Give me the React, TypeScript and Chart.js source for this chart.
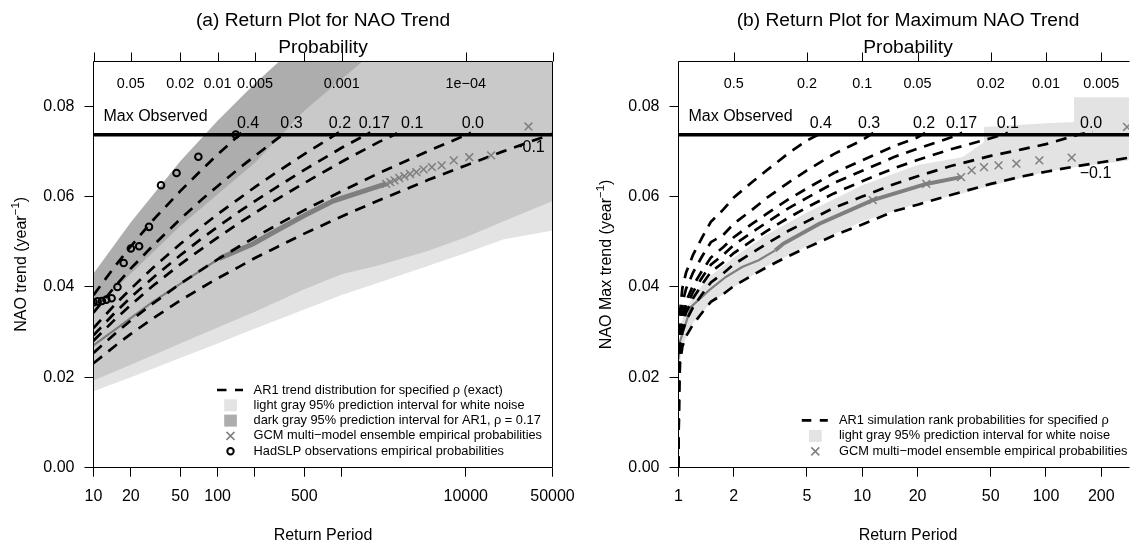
import React, { useEffect, useRef } from 'react';
import { Chart, registerables } from 'chart.js';
Chart.register(...registerables);

const FONT = '"Liberation Sans", Arial, Helvetica, sans-serif';
const MAX_OBSERVED = 0.0737;
const Y_TICKS = [0, 0.02, 0.04, 0.06, 0.08];

// ---------------- Panel (a) ----------------
const A_X_TICKS = [10, 20, 50, 100, 200, 500, 1000, 10000, 50000];
const A_X_LABELS = ['10', '20', '50', '100', '', '500', '', '10000', '50000'];
const A_PROB_AT = [20, 50, 100, 200, 1000, 10000];
const A_PROB_LABELS = ['0.05', '0.02', '0.01', '0.005', '0.001', '1e\u221204'];

const A_BAND_T = [10, 20, 50, 100, 200, 500, 1000, 2000, 5000, 10000, 20000, 50000];
const A_AR1_UPPER = [0.043, 0.0543, 0.0678, 0.0768, 0.085, 0.095, 0.102, 0.108, 0.116, 0.122, 0.128, 0.135];
const A_AR1_LOWER = [0.0193, 0.0228, 0.0275, 0.031, 0.0345, 0.0395, 0.0428, 0.0448, 0.048, 0.051, 0.0545, 0.059];
const A_WN_UPPER = [0.0345, 0.043, 0.0535, 0.0605, 0.0675, 0.079, 0.086, 0.093, 0.1, 0.105, 0.11, 0.116];
const A_WN_LOWER = [0.0169, 0.02, 0.0243, 0.0275, 0.0308, 0.035, 0.0382, 0.041, 0.0447, 0.0475, 0.0505, 0.0525];

const A_RHO = ['0.4', '0.3', '0.2', '0.17', '0.1', '0.0', '\u22120.1'];
const A_CURVE_T = [
  [10, 15, 20, 30, 50, 75, 100, 150, 160],
  [10, 15, 20, 30, 50, 75, 100, 150, 200, 300, 350],
  [10, 15, 20, 30, 50, 75, 100, 150, 200, 300, 500, 950],
  [10, 15, 20, 30, 50, 75, 100, 150, 200, 300, 500, 1000, 1700],
  [10, 15, 20, 30, 50, 75, 100, 150, 200, 300, 500, 1000, 2000, 2800],
  [10, 15, 20, 30, 50, 75, 100, 150, 200, 300, 500, 1000, 2000, 5000, 10000, 11000],
  [10, 15, 20, 30, 50, 75, 100, 150, 200, 300, 500, 1000, 2000, 5000, 10000, 20000, 50000],
];
const A_CURVE_V = [
  [0.0382, 0.0447, 0.049, 0.0547, 0.0612, 0.066, 0.0693, 0.0737, 0.0745],
  [0.0343, 0.0402, 0.0441, 0.0491, 0.055, 0.0594, 0.0623, 0.0663, 0.069, 0.0727, 0.0741],
  [0.0309, 0.0362, 0.0396, 0.0442, 0.0495, 0.0534, 0.0561, 0.0596, 0.0621, 0.0654, 0.0694, 0.0742],
  [0.0293, 0.0344, 0.0377, 0.042, 0.047, 0.0508, 0.0533, 0.0567, 0.059, 0.0621, 0.0659, 0.0708, 0.0742],
  [0.0281, 0.0329, 0.036, 0.0402, 0.045, 0.0485, 0.0509, 0.0542, 0.0564, 0.0594, 0.063, 0.0677, 0.0721, 0.074],
  [0.0254, 0.0297, 0.0326, 0.0363, 0.0407, 0.0439, 0.0461, 0.049, 0.051, 0.0537, 0.057, 0.0612, 0.0652, 0.0701, 0.0736, 0.0741],
  [0.0231, 0.027, 0.0296, 0.033, 0.037, 0.0399, 0.0419, 0.0445, 0.0464, 0.0488, 0.0518, 0.0556, 0.0592, 0.0637, 0.0669, 0.07, 0.0739],
];
const A_LABEL_T = [176, 394, 968, 1830, 3700, 11400, 32300];
const A_LABEL_V = [0.0762, 0.0762, 0.0762, 0.0762, 0.0762, 0.0762, 0.0708];

const A_GCM_THIN_T = [10, 16.1, 30, 55.6, 103];
const A_GCM_THIN_V = [0.0271, 0.0312, 0.0367, 0.0415, 0.0463];
const A_GCM_THICK_T = [103, 192, 300, 500, 850, 1586, 2280];
const A_GCM_THICK_V = [0.0463, 0.0495, 0.0525, 0.0558, 0.059, 0.0614, 0.0628];
const A_GCM_PTS_T = [32000, 16000, 10667, 8000, 6400, 5333, 4571, 4000, 3556, 3200, 2909, 2667, 2462, 2286];
const A_GCM_PTS_V = [0.0755, 0.0691, 0.0687, 0.068, 0.0669, 0.0665, 0.066, 0.0654, 0.065, 0.0645, 0.0641, 0.0636, 0.0632, 0.0628];

const A_OBS_T = [140, 70, 46.7, 35, 28, 23.3, 20, 17.5, 15.6, 14, 12.7, 11.7, 10.8, 10];
const A_OBS_V = [0.0737, 0.0688, 0.0652, 0.0625, 0.0533, 0.049, 0.0485, 0.0453, 0.04, 0.0375, 0.0372, 0.0369, 0.0368, 0.0366];

// ---------------- Panel (b) ----------------
const B_X_TICKS = [1, 2, 5, 10, 20, 50, 100, 200];
const B_X_LABELS = ['1', '2', '5', '10', '20', '50', '100', '200'];
const B_TOP_TICKS = [2, 5, 10, 20, 50, 100, 200];
const B_PROB_AT = [2, 5, 10, 20, 50, 100, 200];
const B_PROB_LABELS = ['0.5', '0.2', '0.1', '0.05', '0.02', '0.01', '0.005'];

const B_BAND_T = [1, 1.05, 1.2, 1.5, 2, 3, 5, 10, 20, 35, 46, 46, 100, 142, 142, 283];
const B_BAND_UPPER = [0.027, 0.033, 0.038, 0.0425, 0.0465, 0.0515, 0.0565, 0.0625, 0.067, 0.0687, 0.072, 0.0754, 0.0762, 0.0765, 0.082, 0.082];
const B_BAND_LOWER = [0.021, 0.027, 0.032, 0.0365, 0.04, 0.0445, 0.049, 0.0545, 0.0585, 0.0607, 0.062, 0.062, 0.0655, 0.0665, 0.0665, 0.068];

const B_RHO = ['0.4', '0.3', '0.2', '0.17', '0.1', '0.0', '\u22120.1'];
const B_CURVE_T = [
  [1, 1.005, 1.02, 1.05, 1.1, 1.2, 1.35, 1.5, 1.75, 2, 2.5, 3, 4, 5, 6],
  [1, 1.005, 1.02, 1.05, 1.1, 1.2, 1.35, 1.5, 1.75, 2, 2.5, 3, 4, 5, 7, 10, 11.5],
  [1, 1.005, 1.02, 1.05, 1.1, 1.2, 1.35, 1.5, 1.75, 2, 2.5, 3, 4, 5, 7, 10, 15, 20, 22],
  [1, 1.005, 1.02, 1.05, 1.1, 1.2, 1.35, 1.5, 1.75, 2, 2.5, 3, 4, 5, 7, 10, 15, 20, 30, 35],
  [1, 1.005, 1.02, 1.05, 1.1, 1.2, 1.35, 1.5, 1.75, 2, 2.5, 3, 4, 5, 7, 10, 15, 20, 30, 50, 62],
  [1, 1.005, 1.02, 1.05, 1.1, 1.2, 1.35, 1.5, 1.75, 2, 2.5, 3, 4, 5, 7, 10, 15, 20, 30, 50, 75, 100, 150, 180],
  [1, 1.005, 1.02, 1.05, 1.1, 1.2, 1.35, 1.5, 1.75, 2, 2.5, 3, 4, 5, 7, 10, 15, 20, 30, 50, 75, 100, 150, 200, 283],
];
const B_CURVE_V = [
  [0, 0.0239, 0.0345, 0.0398, 0.0432, 0.0471, 0.0511, 0.0544, 0.0571, 0.0598, 0.0631, 0.0657, 0.0697, 0.0724, 0.0741],
  [0, 0.0219, 0.0317, 0.0365, 0.0396, 0.0432, 0.0469, 0.0499, 0.0515, 0.054, 0.057, 0.0596, 0.0632, 0.0658, 0.0694, 0.0725, 0.0741],
  [0, 0.0204, 0.0295, 0.034, 0.0369, 0.0403, 0.0437, 0.0465, 0.0488, 0.051, 0.0539, 0.0561, 0.0595, 0.0618, 0.0652, 0.068, 0.0712, 0.0731, 0.0741],
  [0, 0.0197, 0.0285, 0.0329, 0.0356, 0.0389, 0.0422, 0.0449, 0.0471, 0.0493, 0.052, 0.0542, 0.0575, 0.0597, 0.063, 0.0657, 0.0688, 0.0706, 0.073, 0.0741],
  [0, 0.019, 0.0275, 0.0317, 0.0343, 0.0375, 0.0407, 0.0433, 0.0454, 0.0475, 0.0502, 0.0523, 0.0554, 0.0576, 0.0607, 0.0634, 0.0663, 0.0681, 0.0704, 0.0729, 0.0741],
  [0, 0.018, 0.026, 0.03, 0.0325, 0.0355, 0.0385, 0.041, 0.043, 0.045, 0.0475, 0.0495, 0.0525, 0.0545, 0.0575, 0.06, 0.0628, 0.0645, 0.0667, 0.069, 0.0705, 0.0716, 0.0737, 0.0743],
  [0, 0.0161, 0.0232, 0.0268, 0.0291, 0.0317, 0.0344, 0.0367, 0.0384, 0.0402, 0.0425, 0.0443, 0.0469, 0.0487, 0.0514, 0.0538, 0.0568, 0.0582, 0.0603, 0.0628, 0.0645, 0.0655, 0.0668, 0.0676, 0.0686],
];
const B_LABEL_T = [5.95, 10.9, 21.7, 34.7, 62, 176, 186];
const B_LABEL_V = [0.0762, 0.0762, 0.0762, 0.0762, 0.0762, 0.0762, 0.0651];

const B_GCM_THIN_T = [1, 1.02, 1.17, 1.47, 1.81, 2.22, 2.73, 3.36];
const B_GCM_THIN_V = [0.024, 0.028, 0.0356, 0.0393, 0.0422, 0.0444, 0.0459, 0.0481];
const B_GCM_THICK_T = [3.36, 3.73, 5.84, 11.4, 22.3, 34.5];
const B_GCM_THICK_V = [0.0481, 0.0496, 0.054, 0.0592, 0.0628, 0.0643];
const B_GCM_PTS_T = [276, 138, 92, 69, 55.2, 46, 39.4, 34.5, 22.3, 11.4];
const B_GCM_PTS_V = [0.0754, 0.0686, 0.068, 0.0673, 0.0669, 0.0665, 0.0658, 0.0643, 0.0628, 0.0592];

// ---------------- styling ----------------
const DARK = '#adadad';
const LIGHT = '#e3e3e3';
const LIGHT_OVER = 'rgba(214,214,214,0.683)';
const GCM = '#7f7f7f';
const DASH = [11, 8];
const PLOT_TOP = 61;
const PLOT_BOTTOM = 467.7;

const pts = (ts: number[], vs: number[]) => ts.map((t, i) => ({ x: t, y: vs[i] }));

const hidden = { borderColor: 'rgba(0,0,0,0)', borderWidth: 0, pointRadius: 0 };

function makeScales(xMin: number, xMax: number, xTicks: number[], xLabels: string[], yWidth: number) {
  const grid = { drawOnChartArea: false, drawTicks: true, tickLength: 9, color: '#000', lineWidth: 1 };
  return {
    x: {
      type: 'logarithmic', position: 'bottom', min: xMin, max: xMax,
      afterBuildTicks: (s: any) => { s.ticks = xTicks.map((v) => ({ value: v })); },
      afterFit: (s: any) => { s.height = 544 - PLOT_BOTTOM; s.paddingLeft = 0; s.paddingRight = 0; },
      ticks: {
        autoSkip: false, maxRotation: 0, minRotation: 0, padding: 10, color: '#000',
        font: { family: FONT, size: 16 }, callback: (_v: any, i: number) => xLabels[i],
      },
      grid, border: { display: false },
    },
    y: {
      type: 'linear', min: 0, max: 0.09,
      afterBuildTicks: (s: any) => { s.ticks = Y_TICKS.map((v) => ({ value: v })); },
      afterFit: (s: any) => { s.width = yWidth; s.paddingTop = 0; s.paddingBottom = 0; },
      ticks: { padding: 10, color: '#000', font: { family: FONT, size: 16 }, callback: (v: any) => Number(v).toFixed(2) },
      grid, border: { display: false },
    },
  };
}

type Extra = {
  boxRight: boolean;
  topTicks: number[];
  probAt: number[];
  probLabels: string[];
  rho: string[];
  labelT: number[];
  labelV: number[];
  legend: { sym: string; text: string }[];
  legSymX: number;
  legTextX: number;
  legY0: number;
  legDy: number;
  title: string;
  titleX: number;
  yTitle: string;
  yTitleX: number;
};

function extrasPlugin(cfg: Extra) {
  return {
    id: 'extras',
    afterDraw(chart: any) {
      const { ctx, chartArea: a, scales } = chart;
      const xs = scales.x;
      const ys = scales.y;
      const L = Math.floor(a.left) + 0.5;
      const R = Math.floor(a.right) + 0.5;
      const T = Math.floor(a.top) + 0.5;
      const B = Math.floor(a.bottom) + 0.5;
      ctx.save();
      ctx.setLineDash([]);
      ctx.strokeStyle = '#000';
      ctx.lineWidth = 1;
      ctx.beginPath();
      ctx.moveTo(L, B); ctx.lineTo(L, T); ctx.lineTo(R, T);
      if (cfg.boxRight) ctx.lineTo(R, B);
      ctx.moveTo(L, B); ctx.lineTo(R, B);
      ctx.stroke();
      // top axis ticks
      ctx.beginPath();
      cfg.topTicks.forEach((t) => {
        const px = Math.round(xs.getPixelForValue(t)) + 0.5;
        ctx.moveTo(px, T); ctx.lineTo(px, T - 9);
      });
      ctx.stroke();
      ctx.fillStyle = '#000';
      ctx.textAlign = 'center';
      ctx.textBaseline = 'middle';
      // probability labels
      ctx.font = `14.4px ${FONT}`;
      cfg.probAt.forEach((t, i) => ctx.fillText(cfg.probLabels[i], xs.getPixelForValue(t), 84));
      // rho labels
      ctx.font = `16px ${FONT}`;
      cfg.rho.forEach((r, i) => ctx.fillText(r, xs.getPixelForValue(cfg.labelT[i]), ys.getPixelForValue(cfg.labelV[i])));
      // Max Observed
      ctx.textAlign = 'left';
      ctx.fillText('Max Observed', a.left + 10, 116.7);
      // titles
      ctx.textAlign = 'center';
      ctx.font = `19.2px ${FONT}`;
      ctx.fillText(cfg.title, cfg.titleX, 20.7);
      ctx.fillText('Probability', cfg.titleX, 47.3);
      ctx.font = `16px ${FONT}`;
      ctx.fillText('Return Period', cfg.titleX, 536);
      // y title with superscript
      ctx.save();
      ctx.translate(cfg.yTitleX, (a.top + a.bottom) / 2);
      ctx.rotate(-Math.PI / 2);
      ctx.textAlign = 'left';
      ctx.font = `16px ${FONT}`;
      const w1 = ctx.measureText(cfg.yTitle).width;
      const w3 = ctx.measureText(')').width;
      ctx.font = `11.5px ${FONT}`;
      const w2 = ctx.measureText('\u22121').width;
      const x0 = -(w1 + w2 + w3) / 2;
      ctx.font = `16px ${FONT}`;
      ctx.fillText(cfg.yTitle, x0, 0);
      ctx.font = `11.5px ${FONT}`;
      ctx.fillText('\u22121', x0 + w1, -6);
      ctx.font = `16px ${FONT}`;
      ctx.fillText(')', x0 + w1 + w2, 0);
      ctx.restore();
      // legend
      ctx.font = `12.8px ${FONT}`;
      ctx.textAlign = 'left';
      cfg.legend.forEach((row, i) => {
        const yy = cfg.legY0 + i * cfg.legDy;
        const sx = cfg.legSymX;
        ctx.setLineDash([]);
        if (row.sym === 'dash') {
          ctx.strokeStyle = '#000';
          ctx.lineWidth = 2.7;
          ctx.setLineDash([9.5, 8.5]);
          ctx.beginPath(); ctx.moveTo(sx - 13.5, yy); ctx.lineTo(sx + 12.5, yy); ctx.stroke();
          ctx.setLineDash([]);
        } else if (row.sym === 'light' || row.sym === 'dark') {
          ctx.fillStyle = row.sym === 'light' ? LIGHT : DARK;
          ctx.fillRect(sx - 6.3, yy - 6, 12.7, 12);
        } else if (row.sym === 'cross') {
          ctx.strokeStyle = GCM;
          ctx.lineWidth = 1.5;
          ctx.beginPath();
          ctx.moveTo(sx - 4, yy - 4); ctx.lineTo(sx + 4, yy + 4);
          ctx.moveTo(sx - 4, yy + 4); ctx.lineTo(sx + 4, yy - 4);
          ctx.stroke();
        } else if (row.sym === 'circle') {
          ctx.strokeStyle = '#000';
          ctx.lineWidth = 2;
          ctx.beginPath(); ctx.arc(sx, yy, 3.2, 0, Math.PI * 2); ctx.stroke();
        }
        ctx.fillStyle = '#000';
        ctx.fillText(row.text, cfg.legTextX, yy);
      });
      ctx.restore();
    },
  };
}

function curveSets(ts: number[][], vs: number[][]) {
  return ts.map((t, i) => ({
    data: pts(t, vs[i]), borderColor: '#000', borderWidth: 2.7, borderDash: DASH,
    borderCapStyle: 'butt', pointRadius: 0, fill: false, tension: 0, order: 40,
  }));
}

function configA() {
  const datasets: any[] = [
    { data: pts(A_BAND_T, A_AR1_UPPER), fill: '+1', backgroundColor: DARK, ...hidden, order: 100 },
    { data: pts(A_BAND_T, A_AR1_LOWER), fill: false, ...hidden, order: 99 },
    { data: pts(A_BAND_T, A_WN_UPPER), fill: '+1', backgroundColor: LIGHT_OVER, ...hidden, order: 98 },
    { data: pts(A_BAND_T, A_WN_LOWER), fill: false, ...hidden, order: 97 },
    { data: pts(A_GCM_THIN_T, A_GCM_THIN_V), borderColor: GCM, borderWidth: 2.2, pointRadius: 0, fill: false, order: 50 },
    { data: pts(A_GCM_THICK_T, A_GCM_THICK_V), borderColor: GCM, borderWidth: 5, pointRadius: 0, fill: false, order: 50 },
    ...curveSets(A_CURVE_T, A_CURVE_V),
    { data: pts(A_GCM_PTS_T, A_GCM_PTS_V), showLine: false, pointStyle: 'crossRot', pointRadius: 5.5, pointBorderWidth: 1.5, pointBorderColor: GCM, borderColor: GCM, order: 30 },
    { data: pts(A_OBS_T, A_OBS_V), showLine: false, pointStyle: 'circle', pointRadius: 3.3, pointBorderWidth: 2, pointBorderColor: '#000', pointBackgroundColor: 'rgba(0,0,0,0)', borderColor: '#000', order: 20 },
    { data: [{ x: 10, y: MAX_OBSERVED }, { x: 50000, y: MAX_OBSERVED }], borderColor: '#000', borderWidth: 3.5, pointRadius: 0, fill: false, order: 10 },
  ];
  const extra: Extra = {
    boxRight: true,
    topTicks: A_X_TICKS,
    probAt: A_PROB_AT,
    probLabels: A_PROB_LABELS,
    rho: A_RHO,
    labelT: A_LABEL_T,
    labelV: A_LABEL_V,
    legend: [
      { sym: 'dash', text: 'AR1 trend distribution for specified \u03c1 (exact)' },
      { sym: 'light', text: 'light gray 95% prediction interval for white noise' },
      { sym: 'dark', text: 'dark gray 95% prediction interval for AR1, \u03c1 = 0.17' },
      { sym: 'cross', text: 'GCM multi\u2212model ensemble empirical probabilities' },
      { sym: 'circle', text: 'HadSLP observations empirical probabilities' },
    ],
    legSymX: 230.5,
    legTextX: 253.6,
    legY0: 390,
    legDy: 15.3,
    title: '(a) Return Plot for NAO Trend',
    titleX: 323,
    yTitle: 'NAO trend (year',
    yTitleX: 22,
  };
  return {
    type: 'line',
    data: { datasets },
    options: {
      responsive: false, animation: false, devicePixelRatio: 1, events: [],
      layout: { padding: { left: 0, right: 620 - 552.5, top: PLOT_TOP, bottom: 0 } },
      plugins: { legend: { display: false }, tooltip: { enabled: false }, title: { display: false } },
      scales: makeScales(10, 50000, A_X_TICKS, A_X_LABELS, 93.5),
    },
    plugins: [extrasPlugin(extra)],
  };
}

function configB() {
  const datasets: any[] = [
    { data: pts(B_BAND_T, B_BAND_UPPER), fill: '+1', backgroundColor: LIGHT, ...hidden, order: 100 },
    { data: pts(B_BAND_T, B_BAND_LOWER), fill: false, ...hidden, order: 99 },
    { data: pts(B_GCM_THIN_T, B_GCM_THIN_V), borderColor: GCM, borderWidth: 2.2, pointRadius: 0, fill: false, order: 50 },
    { data: pts(B_GCM_THICK_T, B_GCM_THICK_V), borderColor: GCM, borderWidth: 4, pointRadius: 0, fill: false, order: 50 },
    ...curveSets(B_CURVE_T, B_CURVE_V),
    { data: pts(B_GCM_PTS_T, B_GCM_PTS_V), showLine: false, pointStyle: 'crossRot', pointRadius: 5.5, pointBorderWidth: 1.5, pointBorderColor: GCM, borderColor: GCM, order: 30 },
    { data: [{ x: 1, y: MAX_OBSERVED }, { x: 283, y: MAX_OBSERVED }], borderColor: '#000', borderWidth: 3.5, pointRadius: 0, fill: false, order: 10 },
  ];
  const extra: Extra = {
    boxRight: false,
    topTicks: B_TOP_TICKS,
    probAt: B_PROB_AT,
    probLabels: B_PROB_LABELS,
    rho: B_RHO,
    labelT: B_LABEL_T,
    labelV: B_LABEL_V,
    legend: [
      { sym: 'dash', text: 'AR1 simulation rank probabilities for specified \u03c1' },
      { sym: 'light', text: 'light gray 95% prediction interval for white noise' },
      { sym: 'cross', text: 'GCM multi\u2212model ensemble empirical probabilities' },
    ],
    legSymX: 815.3 - 568,
    legTextX: 839 - 568,
    legY0: 420.4,
    legDy: 15.5,
    title: '(b) Return Plot for Maximum NAO Trend',
    titleX: 908 - 568,
    yTitle: 'NAO Max trend (year',
    yTitleX: 607 - 568,
  };
  return {
    type: 'line',
    data: { datasets },
    options: {
      responsive: false, animation: false, devicePixelRatio: 1, events: [],
      layout: { padding: { left: 0, right: 0, top: PLOT_TOP, bottom: 0 } },
      plugins: { legend: { display: false }, tooltip: { enabled: false }, title: { display: false } },
      scales: makeScales(1, 283, B_X_TICKS, B_X_LABELS, 678.5 - 568),
    },
    plugins: [extrasPlugin(extra)],
  };
}

function Panel({ make, left, width }: { make: () => any; left: number; width: number }) {
  const ref = useRef<HTMLCanvasElement>(null);
  useEffect(() => {
    const chart = new Chart(ref.current as HTMLCanvasElement, make());
    return () => chart.destroy();
  }, []);
  return (
    <canvas
      ref={ref}
      width={width}
      height={544}
      style={{ position: 'absolute', left, top: 0, width, height: 544 }}
    />
  );
}

export default function App() {
  return (
    <div style={{ position: 'fixed', left: 0, top: 0, width: 1136, height: 544, background: '#fff', overflow: 'hidden' }}>
      <Panel make={configA} left={0} width={620} />
      <Panel make={configB} left={568} width={568} />
    </div>
  );
}
